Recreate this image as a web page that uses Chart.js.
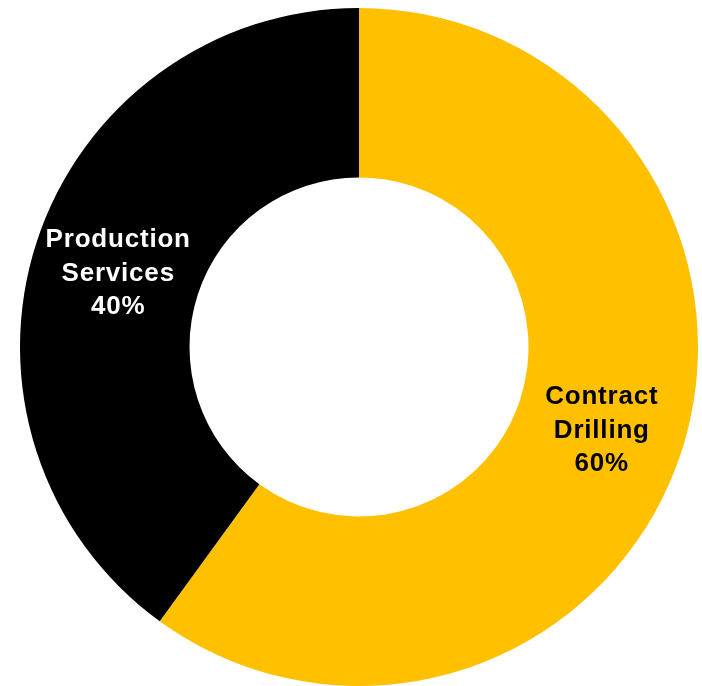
<!DOCTYPE html>
<html>
<head>
<meta charset="utf-8">
<script src="https://cdn.jsdelivr.net/npm/chart.js@4/dist/chart.umd.min.js"></script>
<style>
  html, body { margin: 0; padding: 0; background: #fff; }
  body { width: 702px; height: 686px; position: relative; overflow: hidden; }
  #wrap { position: absolute; left: 20px; top: 8px; width: 678px; height: 678px; }
</style>
</head>
<body>
<div id="wrap"><canvas id="chart"></canvas></div>
<script>
const segments = ['Contract Drilling', 'Production Services'];
const shares = [60, 40];
const sliceColors = ['#FFC000', '#000000'];
const labelColors = ['#000000', '#FFFFFF'];

// writes "name / share%" on each slice, split over lines
const sliceLabels = {
    id: 'sliceLabels',
    afterDatasetsDraw(chart) {
        const c = chart.ctx;
        const meta = chart.getDatasetMeta(0);
        c.save();
        c.font = 'bold 26px "Liberation Sans", Arial, sans-serif';
        c.letterSpacing = '0.8px';
        c.textAlign = 'center';
        c.textBaseline = 'middle';
        meta.data.forEach((arc, i) => {
            const pos = arc.tooltipPosition();
            const lines = segments[i].split(' ').concat([shares[i] + '%']);
            const lh = 33.5;
            const y0 = pos.y + 5 - (lines.length - 1) * lh / 2;
            c.fillStyle = labelColors[i];
            lines.forEach((t, j) => c.fillText(t, pos.x + 1, y0 + j * lh));
        });
        c.restore();
    }
};

const ctx = document.getElementById('chart');
new Chart(ctx, {
    type: 'doughnut',
    data: {
        labels: segments,
        datasets: [{
            data: shares,
            backgroundColor: sliceColors,
            borderWidth: 0
        }]
    },
    options: {
        responsive: true,
        maintainAspectRatio: false,
        animation: false,
        cutout: '50%',
        layout: { padding: 0 },
        plugins: {
            legend: { display: false },
            tooltip: { enabled: false }
        }
    },
    plugins: [sliceLabels]
});
</script>
</body>
</html>
